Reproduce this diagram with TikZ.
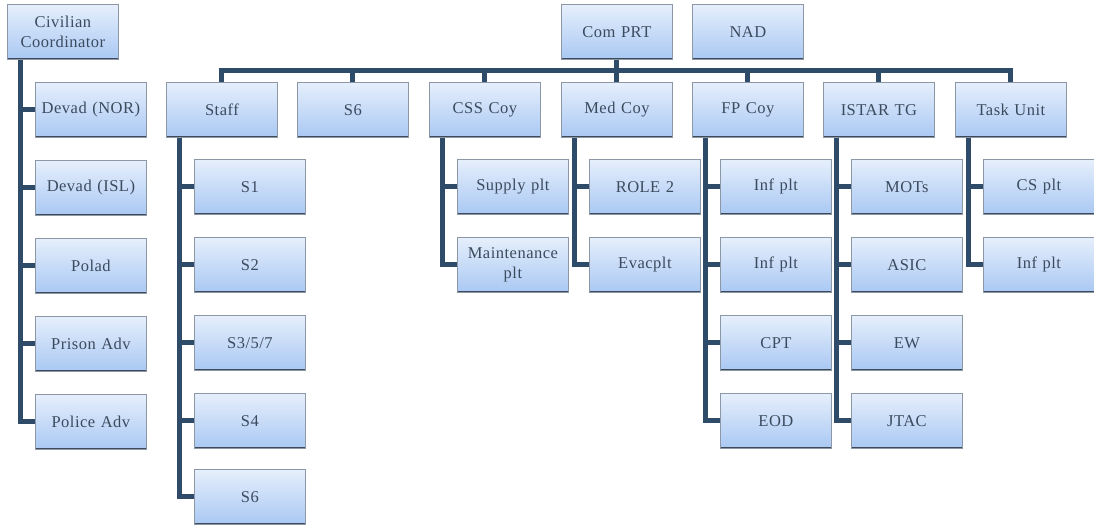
\documentclass[tikz,border=0pt]{standalone}
\usepackage{fontspec}
\setmainfont{Liberation Serif}[LetterSpace=3]
\definecolor{boxtop}{HTML}{E6EFFC}
\definecolor{boxbot}{HTML}{A9C8F3}
\definecolor{boxedge}{HTML}{8C98A6}
\definecolor{boxshadow}{HTML}{3E4A58}
\definecolor{conncol}{HTML}{2F4B6A}
\definecolor{txtcol}{HTML}{3B4B5E}
\tikzset{
  orgbox/.style={draw=boxedge, line width=0.8pt, top color=boxtop, bottom color=boxbot,
    minimum width=111pt, minimum height=55pt, anchor=north west, inner sep=2pt,
    text=txtcol, font=\fontsize{16.5}{20}\selectfont, align=center, text width=106pt,
    path picture={\draw[line width=3.5pt, boxshadow] (path picture bounding box.south west) -- (path picture bounding box.south east);
                  \draw[line width=1.6pt, boxshadow!70] (path picture bounding box.south east) -- (path picture bounding box.north east);}},
  conn/.style={draw=conncol, line width=5pt, line join=miter}
}
\begin{document}
\begin{tikzpicture}[x=1pt,y=-1pt]
\useasboundingbox (0,0) rectangle (1094,527);
% top
\node[orgbox] (civ) at (7,4) {Civilian\\Coordinator};
\node[orgbox] (com) at (561,4) {Com PRT};
\node[orgbox] (nad) at (692,4) {NAD};
% civ children
\node[orgbox] (nor) at (35,82) {Devad (NOR)};
\node[orgbox] (isl) at (35,160) {Devad (ISL)};
\node[orgbox] (polad) at (35,238) {Polad};
\node[orgbox] (prison) at (35,316) {Prison Adv};
\node[orgbox] (police) at (35,394) {Police Adv};
% row 2
\node[orgbox] (staff) at (166,82) {Staff};
\node[orgbox] (sixa) at (297,82) {S6};
\node[orgbox] (css) at (429,82) {CSS Coy};
\node[orgbox] (med) at (561,82) {Med Coy};
\node[orgbox] (fp) at (692,82) {FP Coy};
\node[orgbox] (istar) at (823,82) {ISTAR TG};
\node[orgbox] (task) at (955,82) {Task Unit};
% staff children
\node[orgbox] (s1) at (194,159) {S1};
\node[orgbox] (s2) at (194,237) {S2};
\node[orgbox] (s3) at (194,315) {S3/5/7};
\node[orgbox] (s4) at (194,393) {S4};
\node[orgbox] (s6) at (194,469) {S6};
% css children
\node[orgbox] (supply) at (457,159) {Supply plt};
\node[orgbox] (maint) at (457,237) {Maintenance\\plt};
% med children
\node[orgbox] (role) at (589,159) {ROLE 2};
\node[orgbox] (evac) at (589,237) {Evacplt};
% fp children
\node[orgbox] (inf1) at (720,159) {Inf plt};
\node[orgbox] (inf2) at (720,237) {Inf plt};
\node[orgbox] (cpt) at (720,315) {CPT};
\node[orgbox] (eod) at (720,393) {EOD};
% istar children
\node[orgbox] (mots) at (851,159) {MOTs};
\node[orgbox] (asic) at (851,237) {ASIC};
\node[orgbox] (ew) at (851,315) {EW};
\node[orgbox] (jtac) at (851,393) {JTAC};
% task children
\node[orgbox] (csplt) at (983,159) {CS plt};
\node[orgbox] (inf3) at (983,237) {Inf plt};
% connectors
\foreach \c in {nor,isl,polad,prison,police}
  \draw[conn] ([xshift=13pt]civ.south west) |- (\c.west);
\foreach \c in {staff,sixa,css,med,fp,istar,task}
  \draw[conn] (com.south) -- ++(0,10.5) -| (\c.north);
\foreach \c in {s1,s2,s3,s4,s6}
  \draw[conn] ([xshift=13pt]staff.south west) |- (\c.west);
\foreach \c in {supply,maint}
  \draw[conn] ([xshift=13pt]css.south west) |- (\c.west);
\foreach \c in {role,evac}
  \draw[conn] ([xshift=13pt]med.south west) |- (\c.west);
\foreach \c in {inf1,inf2,cpt,eod}
  \draw[conn] ([xshift=13pt]fp.south west) |- (\c.west);
\foreach \c in {mots,asic,ew,jtac}
  \draw[conn] ([xshift=13pt]istar.south west) |- (\c.west);
\foreach \c in {csplt,inf3}
  \draw[conn] ([xshift=13pt]task.south west) |- (\c.west);
\end{tikzpicture}
\end{document}
